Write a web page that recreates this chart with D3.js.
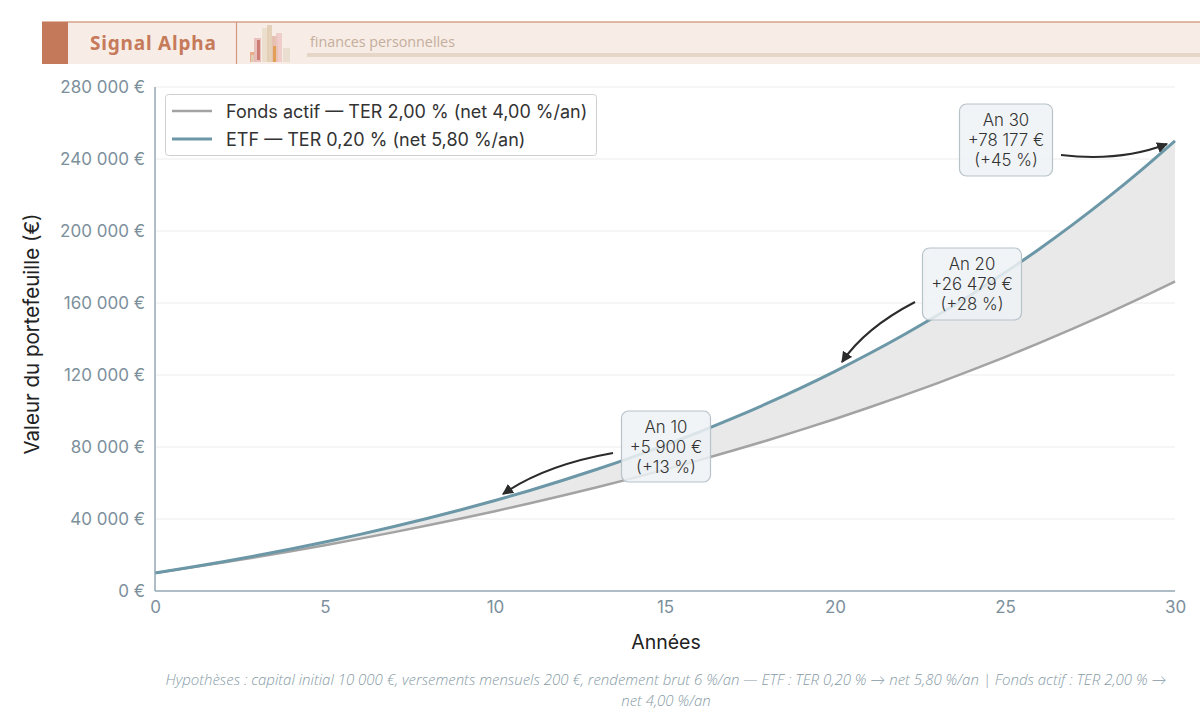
<!DOCTYPE html>
<html><head><meta charset="utf-8">
<script src="https://cdn.jsdelivr.net/npm/d3@7"></script>
<style>
body{margin:0;background:#fff;}
svg{display:block;}
</style></head>
<body>
<svg id="c" width="1200" height="721"></svg>
<script>
const years = d3.range(0, 31);
const fondsValues = [10000,12852,15820,18909,22124,25470,28952,32576,36348,40273,44359,48610,53035,57641,62433,67422,72613,78016,83639,89491,95582,101920,108517,115383,122528,129965,137704,145759,154142,162867,171947];
const etfValues = [10000,13061,16303,19739,23380,27237,31325,35655,40244,45106,50258,55716,61500,67628,74121,81001,88291,96015,104199,112870,122058,131794,142109,153039,164620,176890,189892,203668,218264,233730,250118];
const seriesNames = ["Fonds actif — TER 2,00 % (net 4,00 %/an)", "ETF — TER 0,20 % (net 5,80 %/an)"];
const yTicks = [0,40000,80000,120000,160000,200000,240000,280000];
const xTicks = [0,5,10,15,20,25,30];
const annotations = [
  {year:10, lines:["An 10","+5 900 €","(+13 %)"]},
  {year:20, lines:["An 20","+26 479 €","(+28 %)"]},
  {year:30, lines:["An 30","+78 177 €","(+45 %)"]}
];
const footerLines = ["Hypothèses : capital initial 10 000 €, versements mensuels 200 €, rendement brut 6 %/an — ETF : TER 0,20 % → net 5,80 %/an | Fonds actif : TER 2,00 % →","net 4,00 %/an"];

const svg = d3.select("#c");
const FONT = "Inter, 'Noto Sans', sans-serif";
const fmt = v => d3.format(",")(v).replace(/,/g, " ") + " €";

// header
const hdr = svg.append("g");
hdr.append("rect").attr("x",42).attr("y",22).attr("width",1158).attr("height",42).attr("fill","#f7ece6");
hdr.append("line").attr("x1",42).attr("x2",1200).attr("y1",22).attr("y2",22).attr("stroke","#d9a088").attr("stroke-width",1.5);
hdr.append("rect").attr("x",42).attr("y",22).attr("width",26).attr("height",42).attr("fill","#c47a5a");
hdr.append("text").attr("x",90).attr("y",50).text("Signal Alpha")
  .attr("font-family","'Noto Sans', Lato, sans-serif").attr("font-weight",700).attr("font-size",19).attr("fill","#c67a5a").attr("letter-spacing",0.8);
hdr.append("line").attr("x1",236.5).attr("x2",236.5).attr("y1",22).attr("y2",64).attr("stroke","#d49a80").attr("stroke-width",1.2);
// icon
const icon = [
  {x:250,y:52,w:5,h:10,c:"#e8a07a"},
  {x:251,y:55,w:6,h:7,c:"#ddd2c0"},
  {x:254,y:38,w:7,h:24,c:"#e8b9b4"},
  {x:257,y:40,w:3,h:20,c:"#c9706a"},
  {x:262,y:28,w:7,h:34,c:"#e9dcc8"},
  {x:267,y:25,w:5,h:37,c:"#e2cdb0"},
  {x:272,y:36,w:6,h:26,c:"#e3b9a6"},
  {x:273,y:46,w:5,h:16,c:"#e09a48"},
  {x:276,y:33,w:6,h:29,c:"#ecc8c4"},
  {x:283,y:48,w:7,h:14,c:"#e6dccb"}
];
hdr.selectAll("rect.ic").data(icon).join("rect").attr("class","ic")
  .attr("x",d=>d.x).attr("y",d=>d.y).attr("width",d=>d.w).attr("height",d=>d.h).attr("fill",d=>d.c).attr("opacity",0.85);
hdr.append("text").attr("x",310).attr("y",47).text("finances personnelles")
  .attr("font-family","'Open Sans', Lato, sans-serif").attr("font-size",14.3).attr("fill","#c4ae9c");
hdr.append("rect").attr("x",307).attr("y",53).attr("width",893).attr("height",4).attr("fill","#e6d6c8");

// scales
const x = d3.scaleLinear().domain([0,30]).range([155,1175]);
const y = d3.scaleLinear().domain([0,280000]).range([591,87]);

// grid
svg.append("g").selectAll("line").data(yTicks.slice(1)).join("line")
  .attr("x1",155).attr("x2",1175).attr("y1",d=>y(d)).attr("y2",d=>y(d))
  .attr("stroke","#ececec").attr("stroke-width",1);

// area
const area = d3.area().x((d,i)=>x(years[i])).y0((d,i)=>y(fondsValues[i])).y1((d,i)=>y(etfValues[i])).curve(d3.curveMonotoneX);
svg.append("path").datum(years).attr("d",area).attr("fill","#e9e9e9");

const line = arr => d3.line().x((d,i)=>x(years[i])).y((d,i)=>y(arr[i])).curve(d3.curveMonotoneX)(years);
svg.append("path").attr("d",line(fondsValues)).attr("fill","none").attr("stroke","#a3a3a3").attr("stroke-width",2.5);
svg.append("path").attr("d",line(etfValues)).attr("fill","none").attr("stroke","#6b97a7").attr("stroke-width",3);

// axes
const yAxis = svg.append("g").attr("transform","translate(155,0)").call(d3.axisLeft(y).tickValues(yTicks).tickSize(0).tickPadding(10).tickFormat(fmt));
const xAxis = svg.append("g").attr("transform","translate(0,591)").call(d3.axisBottom(x).tickValues(xTicks).tickSize(0).tickPadding(10));
[yAxis,xAxis].forEach(a=>{
  a.select(".domain").attr("stroke","#95a8b3").attr("stroke-width",1.5);
  a.selectAll("text").attr("font-family",FONT).attr("font-size",17).attr("fill","#7c909c");
});
yAxis.select(".domain").attr("d","M0,87V591");
xAxis.select(".domain").attr("d","M155,0H1175");

// axis titles
svg.append("text").attr("transform","translate(39,334) rotate(-90)").attr("text-anchor","middle")
  .text("Valeur du portefeuille (€)").attr("font-family",FONT).attr("font-size",20.5).attr("fill","#222");
svg.append("text").attr("x",666).attr("y",649).attr("text-anchor","middle")
  .text("Années").attr("font-family",FONT).attr("font-size",19.5).attr("fill","#222");

// legend
const lg = svg.append("g");
lg.append("rect").attr("x",165.5).attr("y",94.5).attr("width",431).attr("height",61).attr("rx",3)
  .attr("fill","#fff").attr("fill-opacity",0.85).attr("stroke","#cfcfcf");
const legendColors = ["#a3a3a3","#6b97a7"];
seriesNames.forEach((n,i)=>{
  const yy = 111 + i*28;
  lg.append("line").attr("x1",172).attr("x2",212).attr("y1",yy).attr("y2",yy).attr("stroke",legendColors[i]).attr("stroke-width",i?3:2.5);
  lg.append("text").attr("x",226).attr("y",yy+6.5).text(n).attr("font-family",FONT).attr("font-size",18).attr("fill","#333");
});

// annotations
const boxes = [
  {cx:666, top:411, w:89, h:71, from:[613,453], ctrl:[545,465], to:[503,494]},
  {cx:972, top:248, w:99, h:72, from:[915,302], ctrl:[865,328], to:[842,362]},
  {cx:1006, top:104, w:93, h:72, from:[1061,155], ctrl:[1120,162], to:[1167,144]}
];
const defs = svg.append("defs");
defs.append("marker").attr("id","ah").attr("viewBox","0 0 10 10").attr("refX",9).attr("refY",5)
  .attr("markerWidth",11).attr("markerHeight",11).attr("markerUnits","userSpaceOnUse").attr("orient","auto")
  .append("path").attr("d","M0,0L10,5L0,10z").attr("fill","#2b2b2b");
annotations.forEach((a,i)=>{
  const b = boxes[i];
  const p = d3.path(); p.moveTo(b.from[0],b.from[1]); p.quadraticCurveTo(b.ctrl[0],b.ctrl[1], b.to[0], b.to[1]);
  svg.append("path").attr("d",p.toString()).attr("fill","none").attr("stroke","#2b2b2b").attr("stroke-width",2).attr("marker-end","url(#ah)");
  const g = svg.append("g");
  g.append("rect").attr("x",b.cx-b.w/2).attr("y",b.top).attr("width",b.w).attr("height",b.h).attr("rx",7)
    .attr("fill","#eef2f5").attr("fill-opacity",0.85).attr("stroke","#b7c2c9").attr("stroke-width",1.2);
  const t = g.append("text").attr("text-anchor","middle")
    .attr("font-family",FONT).attr("font-size",16.8).attr("font-weight",300).attr("fill","#333");
  a.lines.forEach((s,j)=>{
    t.append("tspan").attr("x",b.cx).attr("y",b.top+22+j*20).text(s);
  });
});

// footer
footerLines.forEach((s,i)=>{
  svg.append("text").attr("x",666).attr("y",685+i*20.5).attr("text-anchor","middle").text(s)
    .attr("font-family","'Open Sans', Lato, sans-serif").attr("font-style","italic").attr("font-weight",300)
    .attr("font-size",15).attr("fill","#879ba6");
});
</script>
</body></html>
